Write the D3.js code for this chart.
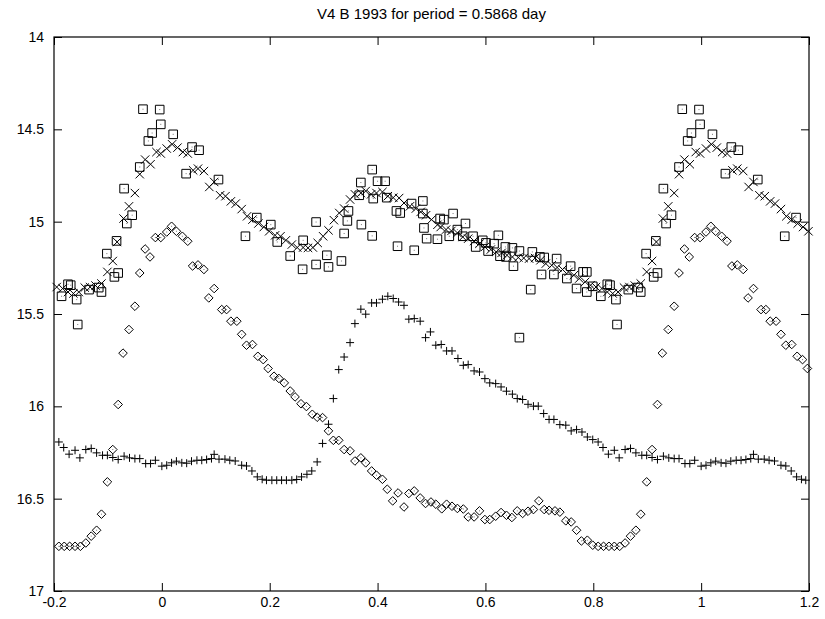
<!DOCTYPE html>
<html>
<head>
<meta charset="utf-8">
<script src="https://cdn.jsdelivr.net/npm/d3@7"></script>
<style>
  body { margin: 0; background: #fff; }
  text { font-family: "Liberation Sans", Arial, sans-serif; fill: #000; }
</style>
</head>
<body>
<svg id="canvas" width="825" height="619"></svg>
<script>
// light curves folded on the period, [phase, magnitude], one cycle each
let diamondData = [
  [0.009,15.056],[0.018,15.025],[0.027,15.052],[0.038,15.079],[0.048,15.106],[0.057,15.240],[0.067,15.234],
  [0.078,15.259],[0.087,15.413],[0.097,15.362],[0.111,15.476],[0.120,15.476],[0.128,15.539],[0.139,15.539],
  [0.148,15.610],[0.157,15.669],[0.168,15.665],[0.178,15.729],[0.188,15.747],[0.197,15.795],[0.208,15.837],
  [0.217,15.849],[0.227,15.873],[0.238,15.917],[0.247,15.949],[0.258,15.986],[0.268,16.001],[0.279,16.043],
  [0.288,16.059],[0.298,16.061],[0.309,16.133],[0.318,16.184],[0.328,16.184],[0.338,16.234],[0.349,16.241],
  [0.358,16.296],[0.369,16.279],[0.378,16.306],[0.389,16.350],[0.398,16.373],[0.409,16.395],[0.418,16.449],
  [0.428,16.512],[0.438,16.469],[0.449,16.545],[0.458,16.472],[0.468,16.458],[0.479,16.496],[0.489,16.526],
  [0.499,16.518],[0.508,16.530],[0.519,16.555],[0.528,16.530],[0.538,16.541],[0.548,16.553],[0.559,16.556],
  [0.568,16.599],[0.579,16.599],[0.589,16.566],[0.599,16.613],[0.608,16.613],[0.619,16.595],[0.629,16.575],
  [0.639,16.590],[0.649,16.602],[0.659,16.566],[0.669,16.580],[0.679,16.568],[0.689,16.559],[0.699,16.512],
  [0.709,16.559],[0.718,16.563],[0.729,16.566],[0.738,16.573],[0.749,16.620],[0.759,16.626],[0.769,16.671],
  [0.778,16.729],[0.789,16.725],[0.799,16.752],[0.809,16.758],[0.819,16.758],[0.829,16.758],[0.839,16.758],
  [0.849,16.758],[0.859,16.740],[0.869,16.703],[0.879,16.671],[0.888,16.584],[0.899,16.409],[0.909,16.234],
  [0.919,15.990],[0.928,15.712],[0.939,15.584],[0.950,15.458],[0.959,15.278],[0.969,15.148],[0.978,15.191],
  [0.988,15.086],[0.998,15.086]
]

let plusData = [
  [0.000,16.324],[0.009,16.319],[0.018,16.306],[0.027,16.297],[0.037,16.306],[0.046,16.308],[0.055,16.297],
  [0.065,16.292],[0.074,16.292],[0.083,16.288],[0.092,16.283],[0.097,16.260],[0.106,16.286],[0.117,16.286],
  [0.126,16.292],[0.136,16.296],[0.148,16.319],[0.157,16.323],[0.167,16.350],[0.177,16.382],[0.186,16.395],
  [0.194,16.400],[0.204,16.400],[0.213,16.400],[0.222,16.400],[0.231,16.400],[0.241,16.400],[0.250,16.396],
  [0.259,16.382],[0.269,16.368],[0.278,16.350],[0.288,16.301],[0.298,16.201],[0.309,16.097],[0.318,15.958],
  [0.328,15.801],[0.338,15.733],[0.349,15.655],[0.358,15.552],[0.369,15.474],[0.378,15.501],[0.389,15.440],
  [0.398,15.440],[0.409,15.420],[0.419,15.404],[0.429,15.416],[0.439,15.435],[0.449,15.453],[0.458,15.528],
  [0.468,15.525],[0.479,15.539],[0.489,15.628],[0.498,15.597],[0.508,15.669],[0.518,15.665],[0.528,15.700],
  [0.538,15.700],[0.549,15.741],[0.559,15.778],[0.568,15.774],[0.579,15.808],[0.589,15.814],[0.599,15.850],
  [0.608,15.873],[0.619,15.877],[0.629,15.895],[0.639,15.918],[0.650,15.934],[0.659,15.958],[0.669,15.963],
  [0.679,15.989],[0.689,15.999],[0.698,15.999],[0.708,16.039],[0.718,16.071],[0.727,16.071],[0.738,16.099],
  [0.749,16.102],[0.759,16.133],[0.769,16.126],[0.779,16.139],[0.789,16.166],[0.799,16.180],[0.809,16.193],
  [0.818,16.223],[0.828,16.259],[0.839,16.238],[0.848,16.279],[0.859,16.234],[0.869,16.228],[0.879,16.252],
  [0.890,16.265],[0.899,16.265],[0.909,16.277],[0.919,16.288],[0.930,16.270],[0.940,16.279],[0.950,16.283],
  [0.959,16.283],[0.970,16.310],[0.979,16.310],[0.988,16.292]
]

let boxData = [
  [0.021,14.527],[0.045,14.740],[0.056,14.596],[0.069,14.613],[0.105,14.772],[0.155,15.079],[0.176,14.978],
  [0.202,15.016],[0.214,15.110],[0.238,15.186],[0.261,15.258],[0.262,15.101],[0.286,15.002],[0.286,15.232],
  [0.306,15.182],[0.309,15.245],[0.333,15.213],[0.338,15.064],[0.344,14.996],[0.346,14.942],[0.366,14.857],
  [0.369,14.788],[0.370,15.016],[0.390,14.718],[0.390,15.077],[0.392,14.875],[0.400,14.781],[0.414,14.781],
  [0.417,14.870],[0.435,14.942],[0.437,15.133],[0.442,14.953],[0.463,14.902],[0.468,15.155],[0.484,14.888],
  [0.484,14.956],[0.486,15.034],[0.491,15.092],[0.511,15.095],[0.516,14.983],[0.523,14.989],[0.533,15.079],
  [0.540,14.956],[0.548,15.043],[0.558,15.079],[0.563,15.010],[0.577,15.079],[0.582,15.137],[0.595,15.101],
  [0.601,15.115],[0.605,15.159],[0.616,15.119],[0.624,15.074],[0.627,15.187],[0.637,15.137],[0.638,15.191],
  [0.650,15.142],[0.652,15.241],[0.663,15.159],[0.663,15.628],[0.684,15.368],[0.687,15.164],[0.701,15.191],
  [0.704,15.286],[0.709,15.194],[0.727,15.286],[0.732,15.200],[0.751,15.308],[0.758,15.241],[0.769,15.362],
  [0.781,15.272],[0.788,15.272],[0.788,15.381],[0.799,15.350],[0.814,15.404],[0.826,15.339],[0.831,15.344],
  [0.842,15.422],[0.844,15.557],[0.865,15.368],[0.883,15.357],[0.888,15.381],[0.898,15.173],[0.912,15.299],
  [0.919,15.278],[0.916,15.104],[0.930,14.821],[0.935,15.010],[0.945,14.965],[0.959,14.704],[0.965,14.391],
  [0.975,14.563],[0.982,14.520],[0.996,14.393],[0.998,14.473]
]

let crossData = [
  [0.009,14.604],[0.019,14.581],[0.029,14.599],[0.039,14.623],[0.048,14.631],[0.058,14.722],[0.067,14.713],
  [0.078,14.726],[0.088,14.812],[0.097,14.785],[0.108,14.857],[0.118,14.862],[0.128,14.890],[0.137,14.902],
  [0.148,14.932],[0.158,14.971],[0.168,14.989],[0.179,15.010],[0.189,15.029],[0.199,15.052],[0.210,15.074],
  [0.220,15.079],[0.230,15.101],[0.241,15.124],[0.251,15.140],[0.262,15.140],[0.271,15.142],[0.280,15.140],
  [0.289,15.115],[0.299,15.079],[0.309,15.047],[0.319,14.992],[0.329,14.953],[0.338,14.929],[0.349,14.880],
  [0.358,14.852],[0.369,14.845],[0.378,14.834],[0.388,14.852],[0.398,14.845],[0.409,14.839],[0.419,14.862],
  [0.429,14.870],[0.440,14.872],[0.449,14.899],[0.460,14.917],[0.471,14.929],[0.480,14.947],[0.490,14.965],
  [0.500,14.989],[0.511,15.017],[0.517,15.029],[0.527,15.043],[0.537,15.050],[0.548,15.061],[0.558,15.083],
  [0.568,15.092],[0.579,15.105],[0.589,15.119],[0.599,15.137],[0.610,15.151],[0.620,15.164],[0.630,15.169],
  [0.640,15.182],[0.650,15.191],[0.661,15.194],[0.671,15.197],[0.681,15.200],[0.692,15.197],[0.702,15.209],
  [0.712,15.227],[0.723,15.236],[0.733,15.248],[0.743,15.259],[0.754,15.272],[0.764,15.290],[0.774,15.308],
  [0.785,15.326],[0.795,15.344],[0.805,15.354],[0.816,15.362],[0.826,15.381],[0.836,15.389],[0.846,15.381],
  [0.857,15.357],[0.867,15.354],[0.877,15.346],[0.888,15.335],[0.899,15.272],[0.909,15.213],[0.917,15.110],
  [0.929,14.983],[0.939,14.917],[0.950,14.845],[0.959,14.743],[0.969,14.664],[0.979,14.689],[0.990,14.623],
  [0.998,14.631]
]

let xTicks = [-0.2, 0, 0.2, 0.4, 0.6, 0.8, 1, 1.2]
let xTickLabels = ['-0.2', '0', '0.2', '0.4', '0.6', '0.8', '1', '1.2']
let yTicks = [14, 14.5, 15, 15.5, 16, 16.5, 17]
let yTickLabels = ['14', '14.5', '15', '15.5', '16', '16.5', '17']
let title = 'V4 B 1993 for period = 0.5868 day'

let canvas = d3.select('#canvas')
let plotLeft = 54, plotRight = 809, plotTop = 37, plotBottom = 591

let x = d3.scaleLinear().domain([-0.2, 1.2]).range([plotLeft, plotRight])
let y = d3.scaleLinear().domain([14, 17]).range([plotTop, plotBottom])

// each phase is shown again one cycle earlier and later, as long as it fits in -0.2..1.2
let fold = (data) => {
    let out = []
    data.forEach(d => {
        [-1, 0, 1].forEach(k => {
            let p = d[0] + k
            if (p >= -0.2 && p <= 1.2) out.push([p, d[1]])
        })
    })
    return out
}

// axes, ticks pointing inwards on all four sides
let tickLen = 8
canvas.append('g')
    .attr('transform', `translate(0,${plotBottom})`)
    .call(d3.axisBottom(x).tickValues(xTicks).tickSizeInner(-tickLen).tickSizeOuter(0).tickPadding(6)
        .tickFormat((d, i) => xTickLabels[i]))
canvas.append('g')
    .attr('transform', `translate(0,${plotTop})`)
    .call(d3.axisTop(x).tickValues(xTicks).tickSizeInner(-tickLen).tickSizeOuter(0).tickFormat(''))
canvas.append('g')
    .attr('transform', `translate(${plotLeft},0)`)
    .call(d3.axisLeft(y).tickValues(yTicks).tickSizeInner(-tickLen).tickSizeOuter(0).tickPadding(10)
        .tickFormat((d, i) => yTickLabels[i]))
canvas.append('g')
    .attr('transform', `translate(${plotRight},0)`)
    .call(d3.axisRight(y).tickValues(yTicks).tickSizeInner(-tickLen).tickSizeOuter(0).tickFormat(''))

canvas.selectAll('.domain').remove()
canvas.selectAll('.tick line').attr('stroke', '#000')
canvas.selectAll('.tick text').style('font-size', '14px').attr('fill', '#000')

canvas.append('rect')
    .attr('x', plotLeft).attr('y', plotTop)
    .attr('width', plotRight - plotLeft).attr('height', plotBottom - plotTop)
    .attr('fill', 'none').attr('stroke', '#000').attr('stroke-width', 1.2)

canvas.append('text')
    .attr('x', (plotLeft + plotRight) / 2).attr('y', 19)
    .attr('text-anchor', 'middle')
    .style('font-size', '15px')
    .text(title)

// point shapes
let shapes = {
    diamond: (cx, cy) => {
        let r = 4.3
        return `M${cx},${cy - r}L${cx + r},${cy}L${cx},${cy + r}L${cx - r},${cy}Z`
    },
    plus: (cx, cy) => {
        let r = 4
        return `M${cx - r},${cy}L${cx + r},${cy}M${cx},${cy - r}L${cx},${cy + r}`
    },
    box: (cx, cy) => {
        let r = 4.3
        return `M${cx - r},${cy - r}L${cx + r},${cy - r}L${cx + r},${cy + r}L${cx - r},${cy + r}Z`
    },
    cross: (cx, cy) => {
        let r = 4.2
        return `M${cx - r},${cy - r}L${cx + r},${cy + r}M${cx - r},${cy + r}L${cx + r},${cy - r}`
    }
}

let drawSeries = (data, shape, dotted) => {
    let pts = fold(data)
    let g = canvas.append('g')
    g.selectAll('path')
        .data(pts)
        .enter()
        .append('path')
        .attr('d', d => shapes[shape](x(d[0]), y(d[1])))
        .attr('fill', 'none')
        .attr('stroke', '#000')
        .attr('stroke-width', 1)
    if (dotted) {
        g.selectAll('rect')
            .data(pts)
            .enter()
            .append('rect')
            .attr('x', d => x(d[0]) - 0.5)
            .attr('y', d => y(d[1]) - 0.5)
            .attr('width', 1).attr('height', 1)
            .attr('fill', '#777')
    }
}

drawSeries(diamondData, 'diamond', true)
drawSeries(plusData, 'plus', false)
drawSeries(boxData, 'box', true)
drawSeries(crossData, 'cross', false)
</script>
</body>
</html>
